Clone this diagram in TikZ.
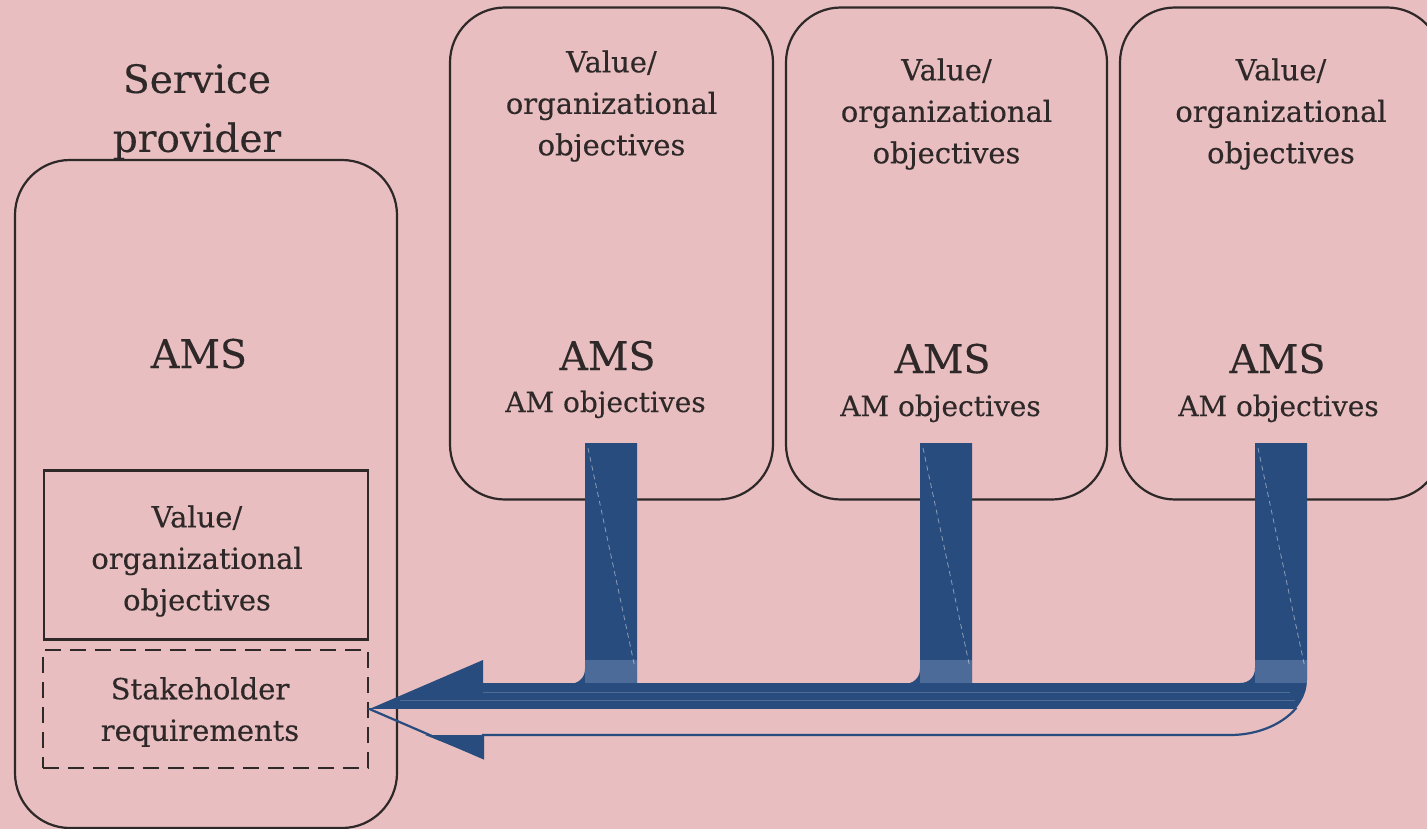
\documentclass[tikz,border=0pt]{standalone}
\usepackage{fontspec}
\setmainfont{DejaVu Serif}[FakeBold=0.3]
\definecolor{bg}{HTML}{E8BEC0}
\definecolor{ablue}{HTML}{284C7E}
\definecolor{lblue}{HTML}{5673A0}
\definecolor{ink}{HTML}{2E2828}
\tikzset{
  rbox/.style={draw=ink, line width=2.2pt, rounded corners=55pt, inner sep=0pt},
  plainbox/.style={draw=ink, line width=2.2pt, inner sep=0pt},
  dbox/.style={draw=ink, line width=2.8pt, dash pattern=on 16pt off 9pt, inner sep=0pt},
  lbl/.style={text=ink, align=center, font=\fontsize{29}{41.5}\selectfont, inner sep=0pt},
  title/.style={text=ink, align=center, font=\fontsize{39}{59}\selectfont, inner sep=0pt},
  ams/.style={text=ink, font=\fontsize{39.5}{50}\selectfont, inner sep=0pt, anchor=base},
  amobj/.style={text=ink, font=\fontsize{28}{32}\selectfont, inner sep=0pt, anchor=base},
  streak/.style={draw=white, opacity=0.45, line width=0.8pt, dash pattern=on 5pt off 4pt},
}
\begin{document}
\begin{tikzpicture}[x=1pt,y=-1pt]
\useasboundingbox (0,0) rectangle (1427,829);
\fill[bg] (0,0) rectangle (1427,829);
\begin{scope}
\clip (0,0) rectangle (1427,829);
% service provider
\node[title] (sptitle) at (197,112) {Service\\provider};
\node[rbox, minimum width=382, minimum height=668] (sp) at (206,494) {};
\node[ams] (spams) at (199,368) {AMS};
\node[plainbox, minimum width=324, minimum height=169] (spval) at (206,555) {};
\node[lbl] (spvaltxt) at (197,561) {Value/\\organizational\\objectives};
\node[dbox, minimum width=325, minimum height=118] (stake) at (205.5,709) {};
\node[lbl] (staketxt) at (200,712) {Stakeholder\\requirements};
% three customer boxes
\node[rbox, minimum width=323, minimum height=492] (c1) at (611.5,253.5) {};
\node[rbox, minimum width=321, minimum height=492] (c2) at (946.5,253.5) {};
\node[rbox, minimum width=322, minimum height=492] (c3) at (1281,253.5) {};
\node[lbl] (c1val) at (611.5,106) {Value/\\organizational\\objectives};
\node[lbl] (c2val) at (946.5,114) {Value/\\organizational\\objectives};
\node[lbl] (c3val) at (1281,114) {Value/\\organizational\\objectives};
\node[ams] (c1ams) at (607.5,370) {AMS};
\node[ams] (c2ams) at (942.5,373) {AMS};
\node[ams] (c3ams) at (1277.5,373) {AMS};
\node[amobj] (c1obj) at (605.5,412) {AM objectives};
\node[amobj] (c2obj) at (940.5,416) {AM objectives};
\node[amobj] (c3obj) at (1278.5,416) {AM objectives};
% arrow geometry
\coordinate (tip) at (stake.east);
% upper (filled) part of the bent arrow
\begin{scope}
\clip (0,0) rectangle (1427,708.5);
\fill[ablue] (tip) -- (483,660) -- (483,683) -- (1240,683)
  .. controls (1249,683) and (1255,677) .. (1255,668) -- (1255,443) -- (1307,443)
  -- (1307,680) .. controls (1307,710) and (1272.5,735) .. (1230,735)
  -- (483,735) -- (483,758) -- cycle;
\end{scope}
% lower part: outline only
\begin{scope}
\clip (0,708.5) rectangle (1427,829);
\draw[ablue, line width=2.2pt, line join=miter] (tip) -- (483,660) -- (483,683) -- (1240,683)
  .. controls (1249,683) and (1255,677) .. (1255,668) -- (1255,443) -- (1307,443)
  -- (1307,680) .. controls (1307,710) and (1272.5,735) .. (1230,735)
  -- (483,735) -- (483,758) -- cycle;
\end{scope}
\fill[ablue] (425,735) -- (483,735) -- (483,758) -- cycle;
% bars from first two boxes
\fill[ablue] (585,443) -- (637,443) -- (637,684) -- (569,684)
  .. controls (578,684) and (585,678) .. (585,669) -- cycle;
\fill[ablue] (920,443) -- (972,443) -- (972,684) -- (904,684)
  .. controls (913,684) and (920,678) .. (920,669) -- cycle;
% lighter bands at bottoms of bars
\fill[lblue, opacity=0.8] (585,660) rectangle (637,683);
\fill[lblue, opacity=0.8] (920,660) rectangle (972,683);
\fill[lblue, opacity=0.8] (1255,660) rectangle (1307,683);
% light streaks
\draw[streak] (588,448) -- (635,668);
\draw[streak] (923,448) -- (970,668);
\draw[streak] (1258,448) -- (1305,668);
\draw[white, opacity=0.18, line width=1pt] (483,692) -- (1290,692);
\draw[white, opacity=0.18, line width=1pt] (400,700) -- (1295,700);
\end{scope}
\end{tikzpicture}
\end{document}
